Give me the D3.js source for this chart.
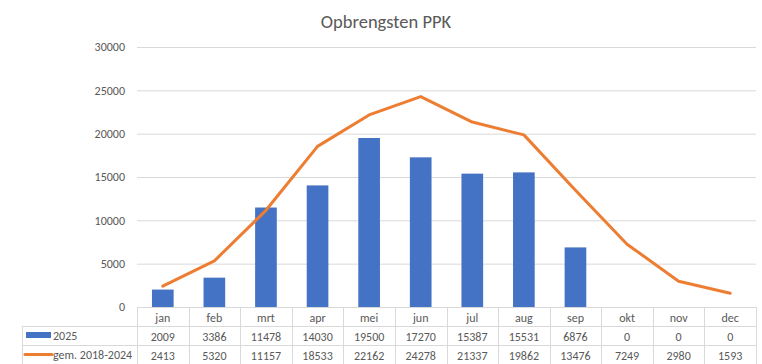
<!DOCTYPE html>
<html>
<head>
<meta charset="utf-8">
<script src="https://cdn.jsdelivr.net/npm/d3@7/dist/d3.min.js"></script>
<style>
  body { margin: 0; background: #fff; }
  text { font-family: Calibri, Carlito, Lato, "Liberation Sans", Arial, sans-serif; fill: #595959; }
</style>
</head>
<body>
<div id="chart"></div>
<script>
// chart data
var months = ['jan', 'feb', 'mrt', 'apr', 'mei', 'jun', 'jul', 'aug', 'sep', 'okt', 'nov', 'dec'];
var vals2025 = [2009, 3386, 11478, 14030, 19500, 17270, 15387, 15531, 6876, 0, 0, 0];
var valsAvg = [2413, 5320, 11157, 18533, 22162, 24278, 21337, 19862, 13476, 7249, 2980, 1593];
var yTicks = [0, 5000, 10000, 15000, 20000, 25000, 30000];
var seriesNames = ['2025', 'gem. 2018-2024'];

var width = 762, height = 364;
var plotLeft = 137, plotRight = 756, plotTop = 47, plotBottom = 307;
var rowH = 19, legendLeft = 22;
var BLUE = '#4472C4', ORANGE = '#ED7D31', GRID = '#d9d9d9';

var svg = d3.select('#chart').append('svg')
    .attr('width', width)
    .attr('height', height);

var x = d3.scaleBand().domain(months).range([plotLeft, plotRight]);
var y = d3.scaleLinear().domain([0, 30000]).range([plotBottom, plotTop]);

// title
svg.append('text')
    .attr('x', 386).attr('y', 28)
    .attr('text-anchor', 'middle')
    .style('font-size', '18.5px')
    .text('Opbrengsten PPK');

// gridlines
svg.selectAll('line.grid')
    .data(yTicks.slice(1))
    .enter().append('line')
    .attr('class', 'grid')
    .attr('x1', plotLeft).attr('x2', plotRight)
    .attr('y1', function (d) { return y(d) + 0.5; })
    .attr('y2', function (d) { return y(d) + 0.5; })
    .style('stroke', GRID).style('stroke-width', 1);

// y labels
svg.selectAll('text.ytick')
    .data(yTicks)
    .enter().append('text')
    .attr('class', 'ytick')
    .attr('x', 125)
    .attr('y', function (d) { return y(d); })
    .attr('dy', '0.35em')
    .attr('text-anchor', 'end')
    .style('font-size', '12px')
    .text(function (d) { return d; });

// bars
var barW = x.bandwidth() * 0.42;
svg.selectAll('rect.bar')
    .data(vals2025)
    .enter().append('rect')
    .attr('class', 'bar')
    .attr('x', function (d, i) { return x(months[i]) + (x.bandwidth() - barW) / 2; })
    .attr('y', function (d) { return y(d); })
    .attr('width', barW)
    .attr('height', function (d) { return plotBottom - y(d); })
    .style('fill', BLUE);

// line
var line = d3.line()
    .x(function (d, i) { return x(months[i]) + x.bandwidth() / 2; })
    .y(function (d) { return y(d); });

svg.append('path')
    .datum(valsAvg)
    .attr('d', line)
    .style('fill', 'none')
    .style('stroke', ORANGE)
    .style('stroke-width', 3)
    .style('stroke-linejoin', 'round')
    .style('stroke-linecap', 'round');

// data table
var tbl = svg.append('g').attr('class', 'table');

// horizontal borders
var hLines = [
    [plotLeft, plotRight, plotBottom],
    [legendLeft, plotRight, plotBottom + rowH],
    [legendLeft, plotRight, plotBottom + rowH * 2],
    [legendLeft, plotRight, plotBottom + rowH * 3]
];
tbl.selectAll('line.h')
    .data(hLines)
    .enter().append('line')
    .attr('x1', function (d) { return d[0]; })
    .attr('x2', function (d) { return d[1]; })
    .attr('y1', function (d) { return d[2] + 0.5; })
    .attr('y2', function (d) { return d[2] + 0.5; })
    .style('stroke', GRID);

// vertical borders
var colEdges = months.map(function (m) { return x(m); }).concat([plotRight]);
tbl.selectAll('line.v')
    .data(colEdges)
    .enter().append('line')
    .attr('x1', function (d) { return Math.round(d) + 0.5; })
    .attr('x2', function (d) { return Math.round(d) + 0.5; })
    .attr('y1', plotBottom)
    .attr('y2', plotBottom + rowH * 3)
    .style('stroke', GRID);

tbl.append('line')
    .attr('x1', legendLeft + 0.5).attr('x2', legendLeft + 0.5)
    .attr('y1', plotBottom + rowH).attr('y2', plotBottom + rowH * 3)
    .style('stroke', GRID);

// month labels
tbl.selectAll('text.month')
    .data(months)
    .enter().append('text')
    .attr('x', function (d) { return x(d) + x.bandwidth() / 2; })
    .attr('y', plotBottom + rowH / 2 + 1)
    .attr('dy', '0.35em')
    .attr('text-anchor', 'middle')
    .style('font-size', '12px')
    .text(function (d) { return d; });

// values rows
[vals2025, valsAvg].forEach(function (vals, r) {
    tbl.selectAll('text.row' + r)
        .data(vals)
        .enter().append('text')
        .attr('class', 'row' + r)
        .attr('x', function (d, i) { return x(months[i]) + x.bandwidth() / 2; })
        .attr('y', plotBottom + rowH * (r + 1) + rowH / 2 + 1)
        .attr('dy', '0.35em')
        .attr('text-anchor', 'middle')
        .style('font-size', '12px')
        .text(function (d) { return d; });
});

// legend keys
tbl.append('rect')
    .attr('x', 26).attr('y', plotBottom + rowH + 6)
    .attr('width', 25).attr('height', 6)
    .style('fill', BLUE);
tbl.append('line')
    .attr('x1', 25).attr('x2', 52)
    .attr('y1', plotBottom + rowH * 2 + 9.5).attr('y2', plotBottom + rowH * 2 + 9.5)
    .style('stroke', ORANGE).style('stroke-width', 3)
    .style('stroke-linecap', 'round');

tbl.selectAll('text.series')
    .data(seriesNames)
    .enter().append('text')
    .attr('x', 53)
    .attr('y', function (d, i) { return plotBottom + rowH * (i + 1) + rowH / 2; })
    .attr('dy', '0.35em')
    .style('font-size', '12px')
    .text(function (d) { return d; });
</script>
</body>
</html>
